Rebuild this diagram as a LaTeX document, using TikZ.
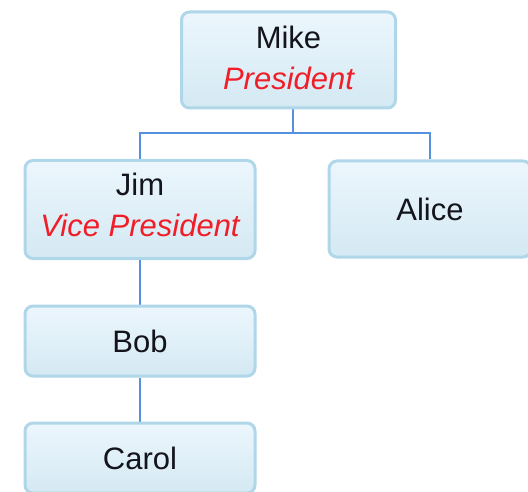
\documentclass[tikz,border=0pt]{standalone}
\usepackage{fontspec}
\setmainfont{Liberation Sans}
\usetikzlibrary{backgrounds}
\definecolor{boxtop}{RGB}{236,246,253}
\definecolor{boxbot}{RGB}{212,233,243}
\definecolor{boxline}{RGB}{176,214,233}
\definecolor{linkblue}{RGB}{84,146,224}
\definecolor{titlered}{RGB}{240,30,40}
\definecolor{nametext}{RGB}{20,20,28}
\tikzset{
  x=1pt, y=1pt,
  person/.style={draw=boxline, line width=3pt, rounded corners=8pt,
    top color=boxtop, bottom color=boxbot, align=center,
    text=nametext, font=\fontsize{31}{41}\selectfont, inner sep=0pt},
  link/.style={draw=linkblue, line width=2pt},
}
% role line in red italics; the invisible rule lifts the two-line block a little
\newcommand{\roletitle}[2]{{\color{titlered}\itshape #2}\rule[-#1]{0pt}{#1}}
\begin{document}
\begin{tikzpicture}
  \useasboundingbox (0,0) rectangle (528,491);
  \clip (0,0) rectangle (528,491);
  \node[person, minimum width=214pt, minimum height=96pt] (mike) at (288.5,431) {Mike\\\roletitle{4pt}{President}};
  \node[person, minimum width=230pt, minimum height=98pt] (jim) at (140,281.5) {Jim\\\roletitle{9pt}{Vice President}};
  \node[person, minimum width=202pt, minimum height=96pt] (alice) at (430,282) {Alice};
  \node[person, minimum width=230pt, minimum height=70pt] (bob) at (140,150) {Bob};
  \node[person, minimum width=230pt, minimum height=70pt] (carol) at (140,33) {Carol};
  \coordinate (hub) at (293,358);
  \begin{pgfonlayer}{background}
    \draw[link] (hub |- mike.south) -- (hub);
    \draw[link] (jim.north) |- (hub) -| (alice.north);
    \draw[link] (jim.south) -- (bob.north);
    \draw[link] (bob.south) -- (carol.north);
  \end{pgfonlayer}
\end{tikzpicture}
\end{document}
